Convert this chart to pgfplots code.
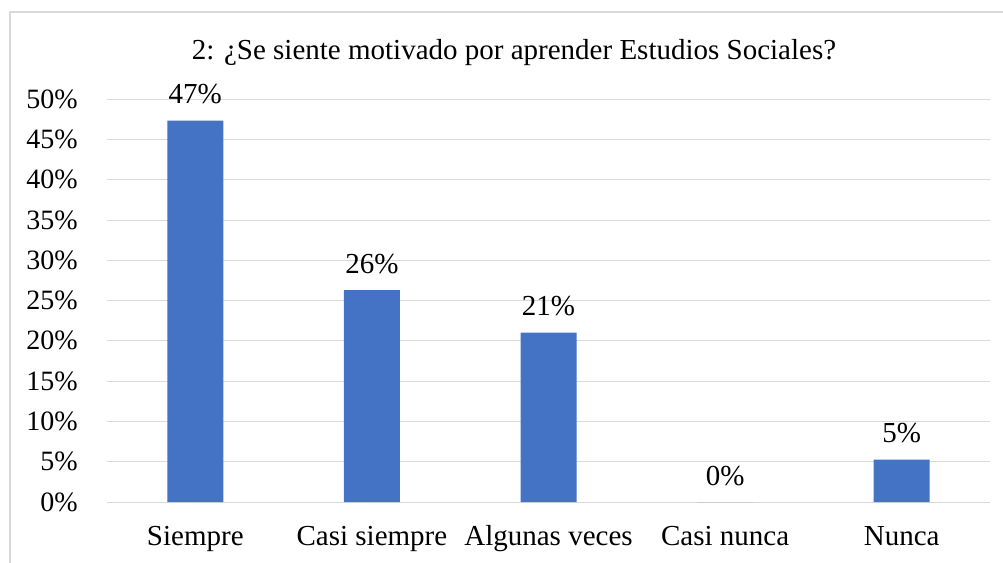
\documentclass[border=0pt]{standalone}
\usepackage{pgfplots}
\pgfplotsset{compat=1.18}
\usepackage{fontspec}
\setmainfont{Liberation Serif}
\definecolor{barblue}{HTML}{4472C4}
\definecolor{gridgray}{HTML}{D9D9D9}
\begin{document}
\begin{tikzpicture}
\useasboundingbox (-107bp,-61bp) rectangle (896bp,502bp);
\draw[gridgray, line width=1.5bp] (-97bp,-70bp) -- (-97bp,490bp) -- (910bp,490bp);
\begin{axis}[
  scale only axis,
  width=883bp, height=402.5bp,
  xmin=-0.5, xmax=4.5,
  ymin=0, ymax=50,
  axis line style={draw=none},
  xtick={0,1,2,3,4},
  xticklabels={Siempre,Casi siempre,Algunas veces,Casi nunca,Nunca},
  ytick={0,5,...,50},
  yticklabels={0\%,5\%,10\%,15\%,20\%,25\%,30\%,35\%,40\%,45\%,50\%},
  major tick length=0pt,
  ymajorgrids,
  grid style={gridgray, line width=1bp},
  xticklabel style={font=\fontsize{29bp}{32bp}\selectfont, anchor=base, inner sep=0pt, yshift=-43bp},
  yticklabel style={font=\fontsize{28bp}{31bp}\selectfont, anchor=base east, inner sep=0pt, xshift=-29bp, yshift=-9bp},
  clip=false,
  /pgf/number format/assume math mode=true,
  ybar, bar width=56bp, bar shift=0pt,
  nodes near coords={\pgfmathprintnumber[fixed,precision=0]{\pgfplotspointmeta}\%},
  every node near coord/.append style={font=\fontsize{29bp}{32bp}\selectfont, anchor=base, inner sep=0pt, yshift=17bp, text=black},
]
\addplot[fill=barblue, draw=none] coordinates {(0,47.37) (1,26.32) (2,21.05) (3,0) (4,5.26)};
\node[font=\fontsize{29bp}{32bp}\selectfont, anchor=base, inner sep=0pt] at (axis cs:-0.5,50) [xshift=407bp, yshift=39.5bp] {2: ¿Se siente motivado por aprender Estudios Sociales?};
\end{axis}
\end{tikzpicture}
\end{document}
